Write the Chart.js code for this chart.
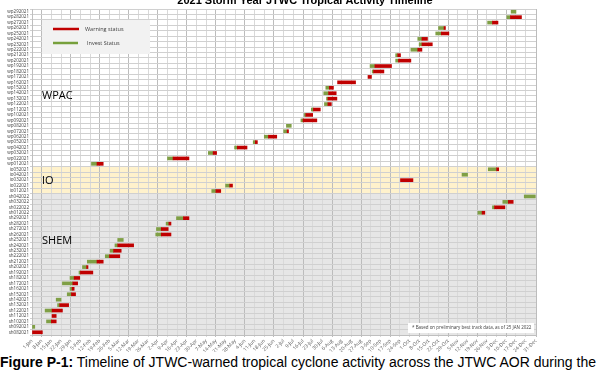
<!DOCTYPE html>
<html>
<head>
<meta charset="utf-8">
<script src="https://cdn.jsdelivr.net/npm/chart.js@4.4.0/dist/chart.umd.min.js"></script>
<style>
  body { margin: 0; background: #fff; width: 600px; height: 372px; overflow: hidden; }
  #wrap { position: relative; width: 600px; height: 352px; }
  #cap { font-family: "Liberation Sans", Arial, sans-serif; font-size: 14px; white-space: nowrap; margin-top: 2px; color: #000; }
</style>
</head>
<body>
<div id="wrap"><canvas id="c" width="600" height="352"></canvas></div>
<div id="cap"><b>Figure P-1:</b> Timeline of JTWC-warned tropical cyclone activity across the JTWC AOR during the</div>
<script>
// storms, top row first. values are day of year 2021 (0 = 1 Jan)
const storms = [
  'wp292021','wp282021','wp272021','wp262021','wp252021','wp242021','wp232021','wp222021','wp212021','wp202021',
  'wp192021','wp182021','wp172021','wp162021','wp152021','wp142021','wp132021','wp122021','wp112021','wp102021',
  'wp092021','wp082021','wp072021','wp062021','wp052021','wp042021','wp032021','wp022021','wp012021',
  'io052021','io042021','io032021','io022021','io012021',
  'sh042022','sh032022','sh022022','sh012022',
  'sh292021','sh282021','sh272021','sh262021','sh252021','sh242021','sh232021','sh222021','sh212021','sh202021',
  'sh192021','sh182021','sh172021','sh162021','sh152021','sh142021','sh132021','sh122021','sh112021','sh102021',
  'sh092021','sh082021'
];
const investStart = [
  346.5,343.5,329.5,294,292,279,280,274,263,263,
  244.5,246,null,null,212.5,211,213,211.5,202,197,
  194.5,184,182,168,160,146.5,127.5,98,43,
  330,311,null,140,130,
  356,340.5,333,322.5,
  104.5,97,90,89.5,62,60,56.5,53,40,36.5,
  34,27.5,22,27.5,25.5,17.5,18.5,9.5,null,10.5,
  0,null
];
const investEnd = [
  350,346,333,298,296,282,282,279,264.5,265,
  248,247,null,null,215,214.5,214,214,203.5,198,
  196,187.5,184.5,171,161.5,148.5,131,102,47,
  336,315,null,143,133,
  364,344.5,334.5,325.5,
  109.5,99,93.5,93.5,66,62,59,56,47,39.5,
  35,30.5,29.5,29,28.5,21,20,14.5,null,14,
  2,null
];
const warnStart = [
  null,346,333,298,296,282,282,279,264.5,265,
  248,247,243,221,215,214.5,214,214,203.5,198,
  196,null,184.5,171,161.5,148.5,131,102,47,
  336,null,266.5,143,133,
  null,344.5,334.5,325.5,
  109.5,99,93.5,93.5,null,62,59,56,47,39.5,
  35,30.5,29.5,29,28.5,null,20,14.5,14.5,14,
  null,0
];
const warnEnd = [
  null,354,337,299,301.5,286,289.5,282,266.5,274,
  260,254.5,245.5,234,218,220,220.5,216.5,208.5,203,
  206,null,185.5,177,163,155.5,133.5,113.5,51.5,
  337.5,null,275.5,145,136.5,
  null,348,342,327.5,
  113.5,100.5,98.5,100.5,null,73.5,64.5,63.5,51.5,40.5,
  44,34.5,33,30.5,31.5,null,26.5,22,17.5,17.5,
  null,7.5
];
const months = ['Jan','Feb','Mar','Apr','May','Jun','Jul','Aug','Sep','Oct','Nov','Dec'];

const investData = storms.map((s, i) => investStart[i] == null ? null : [investStart[i], investEnd[i]]);
const warnData = storms.map((s, i) => warnStart[i] == null ? null : [warnStart[i], warnEnd[i]]);

const firstIO = storms.findIndex(s => s.startsWith('io'));
const firstSH = storms.findIndex(s => s.startsWith('sh'));

const decorations = {
  id: 'decorations',
  beforeDraw(chart) {
    const ctx = chart.ctx;
    const a = chart.chartArea;
    const rowH = (a.bottom - a.top) / storms.length;
    ctx.save();
    ctx.fillStyle = '#fff2cc';
    ctx.fillRect(a.left, a.top + firstIO * rowH, a.right - a.left, (firstSH - firstIO) * rowH);
    ctx.fillStyle = '#e6e6e6';
    ctx.fillRect(a.left, a.top + firstSH * rowH, a.right - a.left, a.bottom - a.top - firstSH * rowH);
    // title, partly cut off at the top
    ctx.fillStyle = '#000';
    ctx.font = 'bold 11px "Liberation Sans", Arial, sans-serif';
    ctx.textAlign = 'center';
    ctx.textBaseline = 'alphabetic';
    ctx.fillText('2021 Storm Year JTWC Tropical Activity Timeline', 305, 3.5);
    ctx.restore();
  },
  afterDraw(chart) {
    const ctx = chart.ctx;
    const a = chart.chartArea;
    ctx.save();
    // region names
    ctx.fillStyle = '#000';
    ctx.font = '11px "Open Sans", "Liberation Sans", sans-serif';
    ctx.textAlign = 'left';
    ctx.textBaseline = 'alphabetic';
    ctx.fillText('WPAC', a.left + 10, 99);
    ctx.fillText('IO', a.left + 10, 184);
    ctx.fillText('SHEM', a.left + 10, 244);
    // legend
    ctx.fillStyle = '#f2f2f2';
    ctx.fillRect(42, 20, 108, 34);
    ctx.lineWidth = 2.5;
    ctx.strokeStyle = '#c00000';
    ctx.beginPath(); ctx.moveTo(53, 29); ctx.lineTo(79, 29); ctx.stroke();
    ctx.strokeStyle = '#77a03c';
    ctx.beginPath(); ctx.moveTo(53, 43); ctx.lineTo(78, 43); ctx.stroke();
    ctx.fillStyle = '#404040';
    ctx.font = '5.5px "Open Sans", "Liberation Sans", sans-serif';
    ctx.textBaseline = 'middle';
    ctx.fillText('Warning status', 85, 29);
    ctx.fillText('Invest Status', 87, 43);
    // footnote
    ctx.fillStyle = '#fff';
    ctx.fillRect(408, 323, 126, 10);
    ctx.fillStyle = '#404040';
    ctx.font = '4.5px "Open Sans", "Liberation Sans", sans-serif';
    ctx.fillText('* Based on preliminary best track data, as of 25 JAN 2022', 412, 328);
    ctx.restore();
  }
};

new Chart(document.getElementById('c').getContext('2d'), {
  type: 'bar',
  data: {
    labels: storms,
    datasets: [
      {
        label: 'Invest Status',
        data: investData,
        backgroundColor: '#7f9f45',
        barThickness: 3,
        grouped: false,
        order: 2
      },
      {
        label: 'Warning status',
        data: warnData,
        backgroundColor: '#c00000',
        barThickness: 3,
        grouped: false,
        order: 1
      }
    ]
  },
  options: {
    indexAxis: 'y',
    responsive: false,
    animation: false,
    layout: { padding: { top: 9, right: 64, left: 0, bottom: 0 } },
    plugins: {
      legend: { display: false },
      tooltip: { enabled: false },
      title: { display: false }
    },
    scales: {
      x: {
        type: 'linear',
        min: 0,
        max: 364.5,
        afterFit: (scale) => { scale.height = 17; },
        ticks: {
          stepSize: 7,
          autoSkip: false,
          minRotation: 45,
          maxRotation: 45,
          padding: 1,
          color: '#595959',
          font: { size: 5, family: '"Open Sans", "Liberation Sans", sans-serif' },
          callback: function (value) {
            const d = new Date(2021, 0, 1 + value);
            return d.getDate() + '-' + months[d.getMonth()];
          }
        },
        grid: {
          color: (c) => (c.index % 3 === 1 ? '#bcbcbc' : '#d9d9d9'),
          lineWidth: 1,
          tickLength: 2
        },
        border: { color: '#bfbfbf' }
      },
      y: {
        afterFit: (scale) => { scale.width = 32; },
        ticks: {
          autoSkip: false,
          padding: 1,
          color: '#404040',
          font: { size: 4.5, family: '"Open Sans", "Liberation Sans", sans-serif' }
        },
        grid: { color: '#d0d0d0', lineWidth: 1, tickLength: 2 },
        border: { color: '#bfbfbf' }
      }
    }
  },
  plugins: [decorations]
});
</script>
</body>
</html>
